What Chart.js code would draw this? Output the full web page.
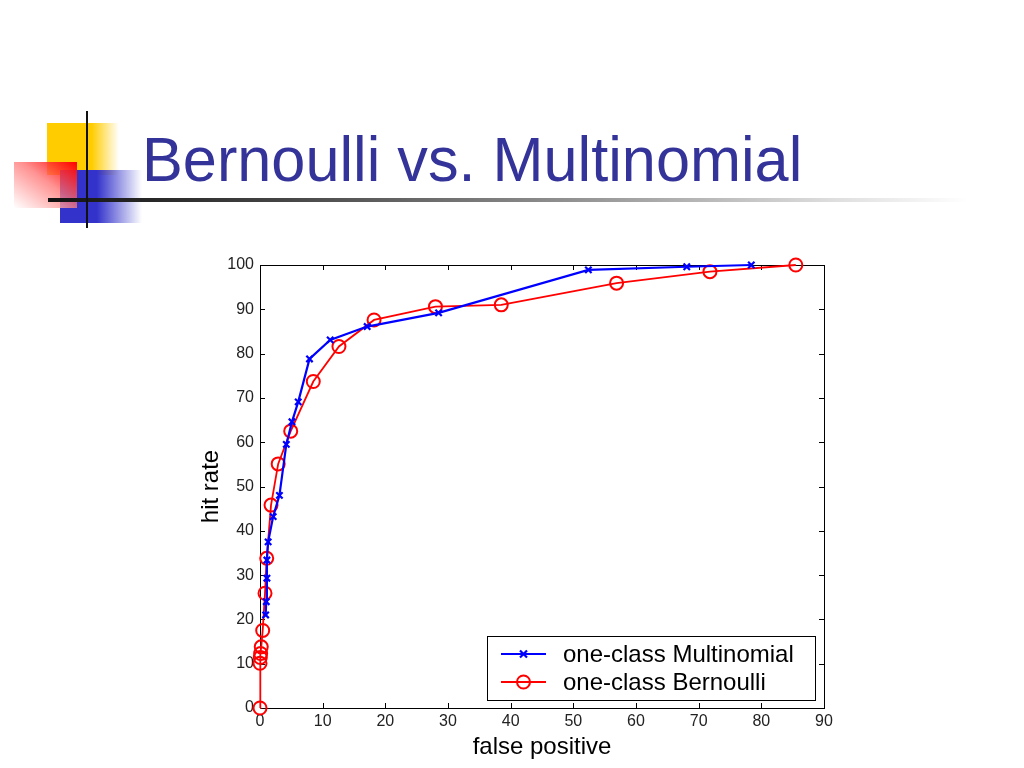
<!DOCTYPE html>
<html><head><meta charset="utf-8">
<script src="https://cdn.jsdelivr.net/npm/chart.js@4.4.1/dist/chart.umd.min.js"></script>
<style>
html,body{margin:0;padding:0;background:#fff;width:1024px;height:768px;overflow:hidden;}
#wrap{position:relative;width:1024px;height:768px;}
.abs{position:absolute;}
#yellow{left:47px;top:123px;width:72px;height:52px;background:linear-gradient(to right,#ffcc00 0%,#ffcc00 62%,rgba(255,204,0,0) 100%);}
#blue{left:60px;top:170px;width:82px;height:53px;background:linear-gradient(to right,#3333cc 0%,#3333cc 45%,rgba(51,51,204,0) 100%);}
#red{left:14px;top:162px;width:63px;height:46px;background:linear-gradient(to bottom left,#ff0000 0%,rgba(255,110,110,0.75) 45%,rgba(255,255,255,0.9) 100%);}
#vline{left:86px;top:111px;width:2px;height:117px;background:#111;}
#hline{left:48px;top:198px;width:920px;height:4px;background:linear-gradient(to right,#111 0%,#444 25%,#999 60%,#ddd 85%,rgba(255,255,255,0) 100%);}
#title{left:142px;top:128px;font-family:"Liberation Sans",Arial,sans-serif;font-size:63px;line-height:63px;color:#333399;white-space:nowrap;transform:scaleX(0.972);transform-origin:0 0;}
#c{position:absolute;left:0;top:0;}
</style></head>
<body><div id="wrap">
<div class="abs" id="yellow"></div>
<div class="abs" id="blue"></div>
<div class="abs" id="red"></div>
<div class="abs" id="hline"></div>
<div class="abs" id="vline"></div>
<div class="abs" id="title">Bernoulli vs. Multinomial</div>
<canvas id="c" width="1024" height="768"></canvas>
</div>
<script>
// ---- data ----
const multinomialLabel = 'one-class Multinomial';
const bernoulliLabel = 'one-class Bernoulli';
const multinomialFP  = [0.9, 1.0, 1.1, 1.1, 1.3, 2.1, 3.1, 4.2, 5.1, 6.1, 7.9, 11.2, 17.1, 28.5, 52.4, 68.1, 78.4];
const multinomialHit = [21.0, 24.0, 29.3, 33.4, 37.5, 43.2, 48.0, 59.5, 64.6, 69.1, 78.8, 83.1, 86.1, 89.2, 98.9, 99.6, 100];
const bernoulliFP  = [0, 0, 0.05, 0.1, 0.2, 0.43, 0.8, 1.07, 1.76, 2.9, 4.9, 8.5, 12.6, 18.2, 28.0, 38.5, 56.9, 71.8, 85.5];
const bernoulliHit = [0, 10.1, 11.4, 12.3, 13.8, 17.5, 25.9, 33.8, 45.8, 55.1, 62.5, 73.7, 81.6, 87.6, 90.6, 91.0, 95.9, 98.5, 100];
const xTicks = [0, 10, 20, 30, 40, 50, 60, 70, 80, 90];
const yTicks = [0, 10, 20, 30, 40, 50, 60, 70, 80, 90, 100];
const xTitle = 'false positive';
const yTitle = 'hit rate';

const toPts = (xs, ys) => xs.map((x, i) => ({x: x, y: ys[i]}));
const FONT = '"Liberation Sans", Arial, sans-serif';

const frame = {
  id: 'frame',
  beforeDatasetsDraw(chart) {
    const {ctx, chartArea: a, scales} = chart;
    ctx.save();
    ctx.strokeStyle = '#000';
    ctx.lineWidth = 1;
    ctx.strokeRect(Math.round(a.left) + 0.5, Math.round(a.top) + 0.5, Math.round(a.right - a.left), Math.round(a.bottom - a.top));
    const L = 5;
    ctx.beginPath();
    xTicks.forEach(v => {
      const px = Math.round(scales.x.getPixelForValue(v)) + 0.5;
      ctx.moveTo(px, a.bottom); ctx.lineTo(px, a.bottom - L);
      ctx.moveTo(px, a.top); ctx.lineTo(px, a.top + L);
    });
    yTicks.forEach(v => {
      const py = Math.round(scales.y.getPixelForValue(v)) + 0.5;
      ctx.moveTo(a.left, py); ctx.lineTo(a.left + L, py);
      ctx.moveTo(a.right, py); ctx.lineTo(a.right - L, py);
    });
    ctx.stroke();
    ctx.restore();
  }
};

const legendBox = {
  id: 'legendBox',
  afterDraw(chart) {
    const {ctx, chartArea: a} = chart;
    const right = a.right - 9, bottom = a.bottom - 8;
    const w = 328, h = 64;
    const left = right - w, top = bottom - h;
    ctx.save();
    ctx.fillStyle = '#fff';
    ctx.fillRect(left, top, w, h);
    ctx.strokeStyle = '#000';
    ctx.lineWidth = 1;
    ctx.strokeRect(Math.round(left) + 0.5, Math.round(top) + 0.5, w, h);
    const rows = [top + 18, top + 46];
    chart.data.datasets.forEach((ds, i) => {
      const y = rows[i];
      const x0 = left + 14, x1 = left + 59, xm = (x0 + x1) / 2;
      ctx.strokeStyle = ds.borderColor;
      ctx.lineWidth = ds.borderWidth;
      ctx.beginPath(); ctx.moveTo(x0, y); ctx.lineTo(x1, y); ctx.stroke();
      ctx.lineWidth = ds.pointBorderWidth;
      ctx.beginPath();
      if (ds.pointStyle === 'crossRot') {
        const r = 3.5;
        ctx.moveTo(xm - r, y - r); ctx.lineTo(xm + r, y + r);
        ctx.moveTo(xm - r, y + r); ctx.lineTo(xm + r, y - r);
      } else {
        ctx.arc(xm, y, ds.pointRadius, 0, Math.PI * 2);
      }
      ctx.stroke();
      ctx.fillStyle = '#000';
      ctx.font = '24px ' + FONT;
      ctx.textBaseline = 'middle';
      ctx.textAlign = 'left';
      ctx.fillText(ds.label, left + 76, y + 1);
    });
    ctx.restore();
  }
};

new Chart(document.getElementById('c'), {
  type: 'scatter',
  data: {
    datasets: [
      {
        label: multinomialLabel,
        data: toPts(multinomialFP, multinomialHit),
        showLine: true,
        borderColor: '#0000ff',
        backgroundColor: '#0000ff',
        borderWidth: 2.2,
        pointStyle: 'crossRot',
        pointRadius: 4.5,
        pointBorderWidth: 2.2,
        pointBorderColor: '#0000ff',
        clip: false
      },
      {
        label: bernoulliLabel,
        data: toPts(bernoulliFP, bernoulliHit),
        showLine: true,
        borderColor: '#ff0000',
        backgroundColor: 'rgba(0,0,0,0)',
        borderWidth: 1.8,
        pointStyle: 'circle',
        pointRadius: 6.5,
        pointBorderWidth: 2,
        pointBorderColor: '#ff0000',
        pointBackgroundColor: 'rgba(0,0,0,0)',
        clip: false
      }
    ]
  },
  options: {
    responsive: false,
    animation: false,
    devicePixelRatio: 1,
    layout: {padding: {left: 180, top: 265, right: 200, bottom: 0}},
    plugins: {legend: {display: false}, tooltip: {enabled: false}},
    scales: {
      x: {
        type: 'linear',
        min: xTicks[0], max: xTicks[xTicks.length - 1],
        afterBuildTicks: s => { s.ticks = xTicks.map(v => ({value: v})); },
        afterFit: s => { s.height = 60; },
        grid: {display: false, drawTicks: false},
        border: {display: false},
        ticks: {color: '#222', font: {family: FONT, size: 16}, padding: 4, maxRotation: 0, autoSkip: false},
        title: {display: true, text: xTitle, color: '#000', font: {family: FONT, size: 24}, padding: {top: 0, bottom: 6}}
      },
      y: {
        type: 'linear',
        min: yTicks[0], max: yTicks[yTicks.length - 1],
        afterBuildTicks: s => { s.ticks = yTicks.map(v => ({value: v})); },
        afterFit: s => { s.width = 80; },
        grid: {display: false, drawTicks: false},
        border: {display: false},
        ticks: {color: '#222', font: {family: FONT, size: 16}, padding: 6, autoSkip: false},
        title: {display: true, text: yTitle, color: '#000', font: {family: FONT, size: 24}, padding: {top: 17, bottom: 0}}
      }
    }
  },
  plugins: [frame, legendBox]
});
</script>
</body></html>
